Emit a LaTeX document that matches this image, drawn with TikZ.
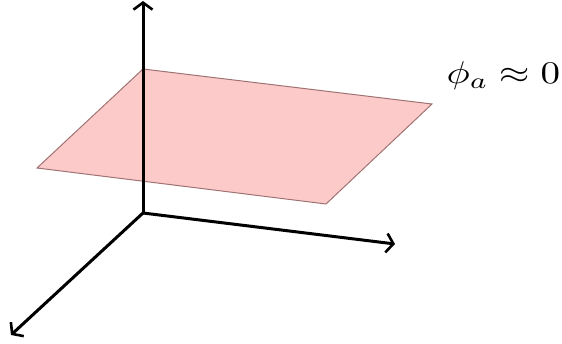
\documentclass[tikz,border=0pt]{standalone}
\usetikzlibrary{arrows.meta}
\definecolor{planefill}{RGB}{253,202,202}
\definecolor{planeedge}{RGB}{160,115,115}
\tikzset{
  axis/.style={line width=3pt,-{Straight Barb[length=7pt,width=19pt,line width=2.6pt]}},
  plane/.style={fill=planefill,draw=planeedge,line width=1pt,line join=miter}
}
\begin{document}
\begin{tikzpicture}[x=1pt,y=-1pt]
\useasboundingbox (0,0) rectangle (562,344);
\coordinate (pA) at (143,69);
\coordinate (pB) at (432,104);
\coordinate (pC) at (326,204);
\coordinate (pD) at (37,168);
\draw[plane] (pA) -- (pB) -- (pC) -- (pD) -- cycle;
\coordinate (O) at (143,213);
\coordinate (zt) at (143,1);
\coordinate (xt) at (395,244);
\coordinate (yt) at (11,335);
\draw[axis] (O) -- (zt);
\draw[axis] (O) -- (xt);
\draw[axis] (O) -- (yt);
\node[xscale=3.9,yscale=3.15,anchor=east,inner sep=0pt] (lab) at (561,76) {$\phi_a \approx 0$};
\end{tikzpicture}
\end{document}
